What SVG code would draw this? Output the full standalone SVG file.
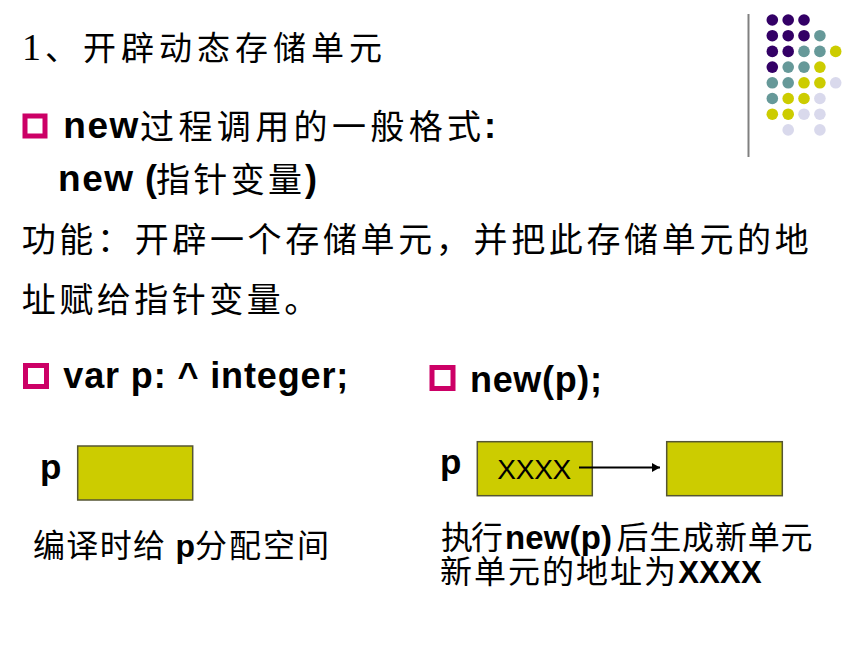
<svg xmlns="http://www.w3.org/2000/svg" width="860" height="645" viewBox="0 0 860 645">
<defs>
<style>
.cjk{font-family:"Noto Sans CJK SC","Liberation Sans",sans-serif;fill:#000}
.b{font-family:"Liberation Sans","Noto Sans CJK SC",sans-serif;font-weight:bold;fill:#000}
.r{font-family:"Liberation Sans",sans-serif;fill:#000}
.bullet{fill:none;stroke:#cc0066;stroke-width:5}
.cell{fill:#cccc00;stroke:#555533;stroke-width:1.5}
.dp{fill:#330066}.dt{fill:#669999}.dy{fill:#cccc00}.dl{fill:#d9d9ec}
</style>
<marker id="ah" markerWidth="9" markerHeight="10" refX="8" refY="4.5" orient="auto" markerUnits="userSpaceOnUse">
<path d="M0,0 L8,4.5 L0,9 Z" fill="#000"/>
</marker>
</defs>
<rect width="860" height="645" fill="#fff"/>

<g id="decor">
<line x1="748.5" y1="14" x2="748.5" y2="157" stroke="#808080" stroke-width="2"/>
<g id="dots">
<circle class="dp" cx="772.3" cy="20" r="5.8"/><circle class="dp" cx="788.2" cy="20" r="5.8"/><circle class="dp" cx="804" cy="20" r="5.8"/>
<circle class="dp" cx="772.3" cy="35.7" r="5.8"/><circle class="dp" cx="788.2" cy="35.7" r="5.8"/><circle class="dp" cx="804" cy="35.7" r="5.8"/><circle class="dt" cx="819.9" cy="35.7" r="5.8"/>
<circle class="dp" cx="772.3" cy="51.4" r="5.8"/><circle class="dp" cx="788.2" cy="51.4" r="5.8"/><circle class="dt" cx="804" cy="51.4" r="5.8"/><circle class="dt" cx="819.9" cy="51.4" r="5.8"/><circle class="dy" cx="835.7" cy="51.4" r="5.8"/>
<circle class="dp" cx="772.3" cy="67.1" r="5.8"/><circle class="dt" cx="788.2" cy="67.1" r="5.8"/><circle class="dt" cx="804" cy="67.1" r="5.8"/><circle class="dy" cx="819.9" cy="67.1" r="5.8"/>
<circle class="dt" cx="772.3" cy="82.8" r="5.8"/><circle class="dt" cx="788.2" cy="82.8" r="5.8"/><circle class="dy" cx="804" cy="82.8" r="5.8"/><circle class="dy" cx="819.9" cy="82.8" r="5.8"/><circle class="dl" cx="835.7" cy="82.8" r="5.8"/>
<circle class="dt" cx="772.3" cy="98.5" r="5.8"/><circle class="dy" cx="788.2" cy="98.5" r="5.8"/><circle class="dy" cx="804" cy="98.5" r="5.8"/><circle class="dl" cx="819.9" cy="98.5" r="5.8"/>
<circle class="dy" cx="772.3" cy="114.2" r="5.8"/><circle class="dy" cx="788.2" cy="114.2" r="5.8"/><circle class="dl" cx="804" cy="114.2" r="5.8"/><circle class="dl" cx="819.9" cy="114.2" r="5.8"/>
<circle class="dl" cx="788.2" cy="129.9" r="5.8"/><circle class="dl" cx="819.9" cy="129.9" r="5.8"/>
</g>
</g>

<g id="title">
<text x="22" y="60" font-size="38" style="font-family:'Liberation Serif',serif">1</text>
<text class="cjk" x="45" y="60" font-size="33" textLength="337" lengthAdjust="spacing">、开辟动态存储单元</text>
</g>

<g id="text-body">
<rect class="bullet" x="25" y="116" width="20" height="20"/>
<text class="b" x="63.3" y="138" font-size="37" textLength="75" lengthAdjust="spacing">new</text>
<text class="cjk" x="140" y="138.5" font-size="34" textLength="341" lengthAdjust="spacing">过程调用的一般格式</text>
<text class="b" x="484" y="138" font-size="36">:</text>
<text class="b" x="58" y="191" font-size="37" textLength="75" lengthAdjust="spacing">new</text>
<text class="b" x="145" y="191" font-size="36">(</text>
<text class="cjk" x="156" y="191.5" font-size="34" textLength="146" lengthAdjust="spacing">指针变量</text>
<text class="b" x="305" y="191" font-size="36">)</text>
<text class="cjk" x="21.7" y="251.5" font-size="34" textLength="787" lengthAdjust="spacing">功能：开辟一个存储单元，并把此存储单元的地</text>
<text class="cjk" x="21.7" y="311.5" font-size="34" letter-spacing="3.5">址赋给指针变量。</text>
</g>

<g id="decl">
<rect class="bullet" x="25.5" y="365.5" width="21" height="21"/>
<text class="b" x="63.3" y="387.5" font-size="36" textLength="285" lengthAdjust="spacing">var p: ^ integer;</text>
</g>

<g id="newcall">
<rect class="bullet" x="432" y="367.5" width="21" height="21"/>
<text class="b" x="470" y="391.5" font-size="36" textLength="132" lengthAdjust="spacing">new(p);</text>
</g>

<g id="node-p-declared">
<text class="b" x="40" y="479" font-size="35">p</text>
<rect class="cell" x="77.7" y="446" width="115" height="54"/>
</g>

<g id="node-p">
<text class="b" x="440" y="473.5" font-size="35">p</text>
<rect class="cell" x="477.3" y="441.7" width="115" height="54"/>
<text class="r" x="497.3" y="479" font-size="28" textLength="74" lengthAdjust="spacing">XXXX</text>
</g>

<g id="node-new-unit">
<rect class="cell" x="666.7" y="441.7" width="115.6" height="54"/>
</g>

<g id="connectors">
<line x1="579" y1="467.5" x2="660" y2="467.5" stroke="#000" stroke-width="2" marker-end="url(#ah)"/>
</g>

<g id="captions">
<text class="cjk" x="33" y="556.5" font-size="32" textLength="132" lengthAdjust="spacing">编译时给</text>
<text class="b" x="175.5" y="556.5" font-size="32">p</text>
<text class="cjk" x="195" y="556.5" font-size="32" textLength="134" lengthAdjust="spacing">分配空间</text>
<text class="cjk" x="441" y="548.5" font-size="32" textLength="62" lengthAdjust="spacing">执行</text>
<text class="b" x="505" y="548.5" font-size="33" textLength="107" lengthAdjust="spacing">new(p)</text>
<text class="cjk" x="616.5" y="548.5" font-size="32" textLength="196" lengthAdjust="spacing">后生成新单元</text>
<text class="cjk" x="440" y="582.5" font-size="32" textLength="236" lengthAdjust="spacing">新单元的地址为</text>
<text class="b" x="678.3" y="582.5" font-size="31" textLength="83.4" lengthAdjust="spacing">XXXX</text>
</g>
</svg>
